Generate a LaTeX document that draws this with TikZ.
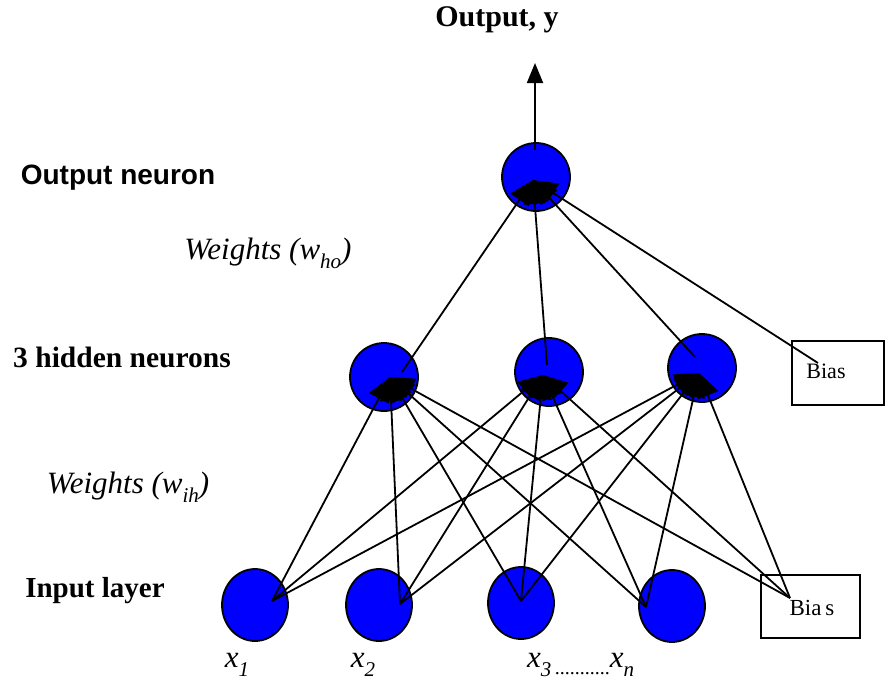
\documentclass[tikz,border=0pt]{standalone}
\usepackage{fontspec}
\setmainfont{Liberation Serif}
\newfontfamily\arialf{Liberation Sans}
\usetikzlibrary{arrows.meta,shapes.geometric}
\definecolor{nblue}{RGB}{0,0,255}
\tikzset{
  neuron/.style={circle,draw=black,line width=1.8pt,fill=nblue,minimum size=68pt,inner sep=0pt},
  inneuron/.style={ellipse,draw=black,line width=1.8pt,fill=nblue,minimum width=66pt,minimum height=72pt,inner sep=0pt},
  biasbox/.style={draw=black,line width=1.8pt,inner sep=0pt},
  conn/.style={line width=1.8pt,-{Triangle[length=20pt,width=16pt]}},
  wconn/.style={line width=1.8pt,-{Triangle[length=24pt,width=22pt]}},
}
\begin{document}
\begin{tikzpicture}[x=1pt,y=-1pt]
\useasboundingbox (0,0) rectangle (886,688);
% neurons
\node[neuron] (o) at (536,177) {};
\node[neuron] (h1) at (384,377) {};
\node[neuron] (h2) at (549,372) {};
\node[neuron] (h3) at (702,368) {};
\node[inneuron] (i1) at (255,605) {};
\node[inneuron] (i2) at (379,605) {};
\node[inneuron] (i3) at (521,603) {};
\node[inneuron] (i4) at (672,606) {};
\node[biasbox,minimum width=92pt,minimum height=64pt] (bt) at (838,373) {};
\node[biasbox,minimum width=99pt,minimum height=63pt] (bb) at (810.5,606.5) {};
\node[inner sep=0pt] (btl) at (826,371) {\fontsize{22}{24}\selectfont Bias};
\node[inner sep=0pt] (bbl) at (812,608) {\fontsize{23}{25}\selectfont Bia\,s};
% connector points
\coordinate (ot) at (533,180);
\coordinate (otop) at (535,150);
\coordinate (oy) at (535,63);
\coordinate (h1t) at (390,377);
\coordinate (h2t) at (543,375);
\coordinate (h3t) at (699,373);
\coordinate (h1s) at (402,372);
\coordinate (h2s) at (547,365);
\coordinate (h3s) at (695,357);
\coordinate (bts) at (818,363);
\coordinate (i1s) at (272,601);
\coordinate (i2s) at (400,604);
\coordinate (i3s) at (521,601);
\coordinate (i4s) at (646,607);
\coordinate (bbs) at (790,598);
% output arrow
\draw[conn] (otop) -- (oy);
% hidden -> output
\foreach \s in {h1s,h2s,h3s,bts} \draw[wconn] (\s) -- (ot);
% input -> hidden
\foreach \s in {i1s,i2s,i3s,i4s,bbs}
  \foreach \t in {h1t,h2t,h3t}
    \draw[wconn] (\s) -- (\t);
% labels
\node[inner sep=0pt] (outy) at (497,20) {\fontsize{30}{32}\selectfont\bfseries Output, y};
\node[inner sep=0pt] (outn) at (118,178) {\fontsize{28}{32}\selectfont\arialf\bfseries Output neuron};
\node[inner sep=0pt] (hidl) at (122,357) {\fontsize{29.5}{32}\selectfont\bfseries 3 hidden neurons};
\node[inner sep=0pt] (inl) at (95,591) {\fontsize{29}{32}\selectfont\bfseries Input layer};
\node[inner sep=0pt] (who) at (268,253) {\fontsize{31}{32}\selectfont\itshape Weights (w\raisebox{-0.3em}{\fontsize{21}{21}\selectfont ho})};
\node[inner sep=0pt] (wih) at (128,487) {\fontsize{31}{32}\selectfont\itshape Weights (w\raisebox{-0.3em}{\fontsize{21}{21}\selectfont ih})};
\node[inner sep=0pt] (x1) at (237,665) {\fontsize{31}{32}\selectfont\itshape x\raisebox{-0.3em}{\fontsize{21}{21}\selectfont 1}};
\node[inner sep=0pt] (x2) at (363,665) {\fontsize{31}{32}\selectfont\itshape x\raisebox{-0.3em}{\fontsize{21}{21}\selectfont 2}};
\node[inner sep=0pt,anchor=west] (x3) at (527,665) {\fontsize{31}{32}\selectfont\itshape x\raisebox{-0.3em}{\fontsize{21}{21}\selectfont 3}\upshape\fontsize{20}{20}\selectfont\raisebox{-0.35em}{\,...........}\itshape\fontsize{31}{32}\selectfont x\raisebox{-0.3em}{\fontsize{21}{21}\selectfont n}};
\end{tikzpicture}
\end{document}
